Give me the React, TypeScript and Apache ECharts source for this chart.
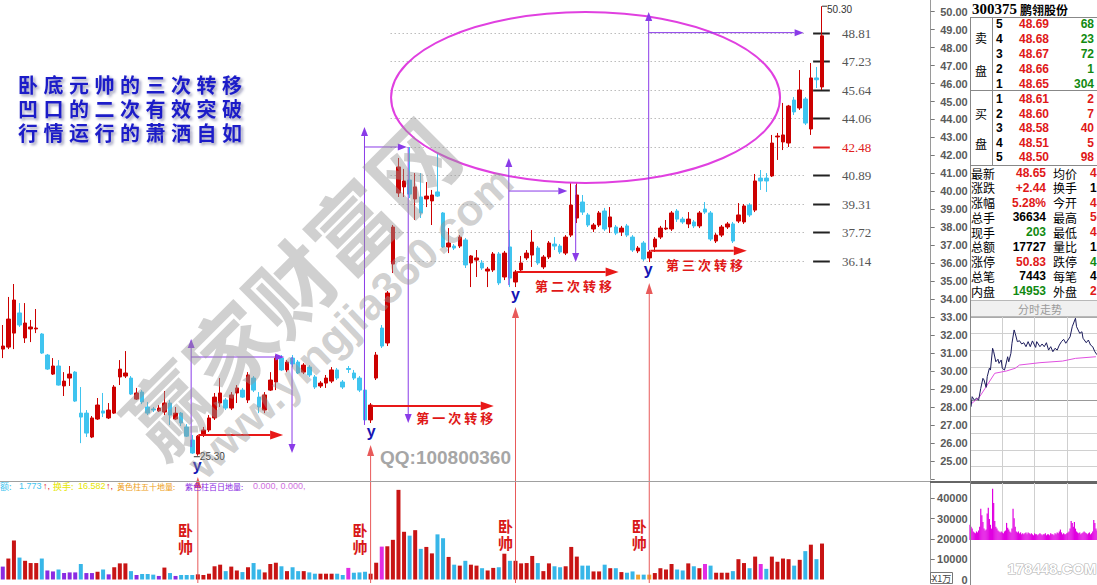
import React, { useEffect, useRef } from "react";
import * as echarts from "echarts";

// ---------- daily candles: [open, close, low, high] ----------
const candles: number[][] = [
  [31.23, 31.4, 30.73, 32.57], [31.34, 32.9, 31.23, 34.13], [32.12, 33.96, 31.23, 34.85], [33.24, 32.57, 32.46, 33.79],
  [31.85, 32.68, 31.57, 33.79], [32.35, 32.46, 31.62, 32.85], [32.35, 32.4, 32.12, 33.46], [32.07, 31.01, 30.96, 32.12],
  [30.9, 30.12, 30.07, 30.96], [29.84, 30.29, 29.79, 30.73], [30.29, 29.23, 29.2, 30.62], [29.18, 29.45, 28.62, 29.95],
  [29.62, 29.84, 29.18, 30.29], [29.95, 28.34, 28.29, 30.01], [27.67, 27.45, 26.0, 29.12], [27.67, 26.56, 26.34, 27.84],
  [26.34, 27.4, 26.28, 27.51], [27.34, 28.12, 27.29, 28.51], [27.79, 27.67, 27.45, 28.79], [27.4, 27.84, 27.34, 28.23],
  [27.67, 29.12, 27.62, 29.23], [29.68, 30.12, 29.23, 30.62], [29.73, 29.9, 29.62, 31.12], [29.62, 28.73, 28.68, 29.73],
  [28.45, 28.79, 28.4, 29.07], [28.84, 28.29, 28.17, 28.95], [28.01, 27.67, 27.56, 28.29], [27.9, 27.84, 27.73, 28.01],
  [27.79, 27.95, 27.73, 28.12], [27.73, 28.23, 27.56, 28.9], [28.23, 27.56, 27.01, 28.4], [27.34, 27.67, 27.29, 28.01],
  [27.67, 27.12, 26.95, 27.73], [26.9, 26.39, 26.34, 27.06], [26.17, 25.45, 25.4, 26.45], [25.4, 26.39, 25.3, 26.45],
  [26.45, 26.73, 26.34, 26.9], [26.73, 27.4, 26.62, 27.56], [27.4, 28.56, 27.29, 28.79], [28.23, 28.79, 28.01, 29.62],
  [28.4, 27.95, 27.84, 28.51], [27.95, 28.68, 27.84, 28.84], [28.79, 29.07, 28.23, 29.23], [28.95, 28.56, 28.51, 29.07],
  [28.4, 29.79, 28.23, 29.95], [29.62, 28.95, 28.84, 29.73], [28.56, 28.01, 27.67, 28.84], [27.84, 28.68, 27.67, 28.84],
  [28.95, 29.51, 28.9, 29.95], [29.4, 30.73, 28.95, 30.9], [30.73, 30.07, 30.01, 30.9], [30.07, 30.51, 29.95, 30.62],
  [30.73, 30.4, 30.23, 30.9], [30.51, 29.9, 29.84, 30.62], [29.95, 30.34, 29.84, 30.45], [30.23, 29.79, 29.68, 30.34],
  [29.68, 29.12, 29.01, 29.79], [29.18, 29.34, 29.07, 29.45], [29.34, 29.62, 29.07, 29.79], [29.45, 30.07, 29.34, 30.23],
  [30.07, 29.62, 29.51, 30.18], [29.4, 29.12, 29.01, 29.51], [30.15, 30.1, 29.9, 30.29], [29.9, 29.62, 29.51, 30.07],
  [29.62, 28.95, 28.84, 29.73], [28.95, 27.29, 27.12, 29.12], [27.29, 28.12, 27.12, 28.23], [29.62, 30.9, 29.51, 31.07],
  [32.4, 31.4, 31.29, 32.57], [31.57, 34.35, 31.4, 34.46], [35.96, 38.02, 35.46, 38.13], [39.91, 41.36, 39.69, 41.86],
  [40.25, 40.58, 39.69, 41.25], [40.63, 39.85, 39.63, 42.47], [39.58, 40.25, 38.41, 41.02], [39.69, 38.8, 38.52, 41.02],
  [39.58, 39.74, 39.13, 40.52], [39.47, 39.8, 38.13, 40.08], [39.97, 39.74, 39.69, 42.14], [38.8, 36.91, 36.85, 38.85],
  [36.91, 37.13, 36.57, 37.96], [36.96, 36.85, 36.74, 37.07], [36.96, 37.46, 36.85, 37.57], [37.3, 35.91, 35.74, 37.41],
  [36.02, 36.41, 34.68, 36.46], [36.18, 36.3, 35.24, 36.74], [36.02, 35.74, 35.63, 36.18], [35.57, 35.68, 34.68, 35.8],
  [35.63, 36.52, 35.52, 36.63], [36.52, 34.91, 34.79, 36.63], [35.24, 36.57, 35.07, 36.69], [36.91, 35.18, 34.68, 37.85],
  [34.96, 35.52, 34.68, 35.63], [35.63, 36.02, 35.52, 36.41], [36.3, 36.57, 36.18, 36.74], [36.46, 37.18, 35.8, 37.85],
  [36.85, 36.02, 35.91, 36.96], [35.8, 36.35, 35.68, 36.46], [36.35, 37.13, 36.24, 37.24], [37.07, 36.96, 36.74, 37.46],
  [36.96, 36.63, 36.52, 37.07], [36.57, 37.46, 36.46, 37.57], [37.57, 39.24, 37.46, 40.47], [38.52, 39.8, 38.24, 40.47],
  [39.41, 38.85, 38.69, 39.8], [38.69, 38.13, 38.02, 38.8], [37.91, 38.13, 37.74, 38.24], [38.13, 38.8, 38.02, 38.91],
  [38.91, 37.91, 37.8, 39.08], [38.02, 38.58, 37.69, 39.13], [38.02, 37.68, 37.57, 38.13], [37.74, 37.96, 37.52, 38.08],
  [38.08, 37.57, 37.46, 38.19], [37.46, 36.74, 36.63, 37.57], [36.69, 36.85, 36.57, 36.96], [37.13, 36.24, 36.13, 37.24],
  [36.3, 36.63, 36.07, 36.74], [36.91, 37.35, 36.63, 37.46], [37.46, 37.96, 37.35, 38.08], [37.91, 37.96, 37.85, 38.41],
  [37.91, 38.8, 37.8, 38.91], [38.91, 38.46, 38.3, 39.02], [38.46, 38.3, 38.19, 38.58], [38.19, 38.46, 37.96, 38.85],
  [38.3, 38.08, 37.96, 38.41], [38.08, 38.8, 37.96, 38.91], [39.02, 38.85, 38.74, 39.41], [38.8, 37.35, 37.24, 38.91],
  [37.24, 37.57, 37.13, 37.68], [37.57, 38.02, 37.46, 38.13], [38.02, 38.19, 37.91, 38.3], [38.19, 37.24, 37.13, 38.3],
  [38.35, 38.69, 38.24, 39.35], [38.3, 39.19, 38.19, 39.3], [39.24, 38.69, 38.58, 39.35], [38.96, 40.58, 38.85, 40.97],
  [40.74, 40.58, 40.08, 41.19], [40.74, 40.58, 39.97, 41.02], [40.86, 42.69, 40.8, 43.14], [43.03, 43.08, 41.75, 43.25],
  [42.75, 43.14, 42.3, 44.92], [42.69, 44.75, 42.47, 44.81], [45.08, 44.42, 44.25, 45.25], [44.64, 45.64, 44.53, 46.75],
  [45.14, 43.8, 43.69, 45.25], [43.47, 46.31, 43.14, 47.14], [46.31, 46.21, 45.75, 46.92], [45.81, 48.65, 45.64, 50.3],
];

// daily turnover (万元)
const volumes: number[] = [
  6360, 10340, 19240, 10810, 9220, 8110, 8110, 10340, 4450, 3980,
  4930, 3180, 3500, 3500, 7630, 3180, 3180, 3820, 4930, 2540,
  6040, 7950, 7950, 4130, 2230, 2700, 2700, 2390, 1750, 5880,
  3180, 1750, 2230, 2230, 2230, 2540, 2230, 2860, 6520, 7310,
  4130, 6360, 4450, 3660, 6040, 8110, 4930, 3500, 7630, 8270,
  6520, 4130, 6040, 4130, 4130, 3500, 2860, 2860, 2860, 2860,
  2860, 2230, 5720, 3340, 3500, 3820, 2860, 8270, 16220, 16380,
  19560, 44200, 23530, 21620, 24330, 15110, 16060, 12880, 22260, 20350,
  11130, 7310, 6840, 9220, 7310, 6840, 5570, 4450, 5720, 6040,
  12720, 9220, 9220, 7950, 8110, 11610, 8110, 4130, 7950, 6520,
  6040, 6520, 16060, 11290, 6840, 6840, 3980, 3980, 7310, 5570,
  5570, 3660, 3340, 3980, 2390, 2390, 2390, 3180, 5570, 4930,
  7630, 4930, 4450, 7950, 6520, 5570, 7630, 6840, 3340, 3340,
  3340, 4130, 10020, 8110, 5570, 11290, 7630, 5250, 11290, 8750,
  10340, 10020, 6840, 9700, 13990, 17170, 10020, 17727,
];
const purpleBars = [0, 8, 9, 11, 12, 13, 15, 16, 19, 24, 28, 31];
const magentaBars = [62, 68, 126, 136];
const orangeBars = [114, 116];
const SLOTS = 167;

// reference levels on the right
const levels = [48.81, 47.23, 45.64, 44.06, 42.48, 40.89, 39.31, 37.72, 36.14];
const highlightLevel = 42.48;

// annotations (index, price)
const purpleArrows = [
  [33.8, 25.78, 33.8, 31.79], [33.8, 30.79, 50.5, 30.79], [51.9, 30.79, 51.9, 25.45],
  [64.9, 27.01, 64.9, 43.58], [64.9, 42.47, 72.5, 42.47], [72.75, 42.47, 72.75, 27.12],
  [90.8, 34.79, 90.8, 41.86], [90.8, 40.02, 101.3, 40.02], [102.8, 40.36, 102.8, 36.07],
  [115.9, 36.74, 115.9, 49.98], [115.9, 48.83, 143.7, 48.83],
];
const redArrows = [
  [35.1, 26.45, 50.3, 26.45], [66.2, 28.07, 88.1, 28.07], [92.2, 35.52, 110.5, 35.52], [116.2, 36.7, 133.5, 36.7],
];
const signalBars = [35, 66, 92, 116];
const signalTips = [24.12, 25.9, 33.57, 34.91];
const yMarks = [[34.9, 24.73], [66.1, 26.67], [92, 34.29], [115.8, 35.63]];
const transferTexts = [["第一次转移", 81.1, 27.4], ["第二次转移", 102.4, 34.79], ["第三次转移", 125.9, 35.96]];
const ellipseSpec = { idx: 104.57, price: 45.22, rIdx: 34.9, rPrice: 4.755 };
const lowIdx = 35, lowPrice = 25.3, highIdx = 147, highPrice = 50.3;
const volFloorPrice = 18.22;
const woShuai = [[32.8, 20476], [64.1, 20476], [90.2, 22381], [114.2, 22381]];

// intraday
const intradayMinutes = [1, 2, 4, 6, 8, 10, 12, 13, 15, 16, 18, 19, 21, 22, 24, 26, 27, 29, 30, 32, 33, 35, 36, 38, 39, 41, 42, 44, 46, 48, 50, 52, 54, 56, 58, 61, 62, 65, 67, 69, 71, 73, 75, 77, 79, 81, 83, 85, 87, 89, 91, 93, 95, 98, 99, 102, 104, 105, 108, 110, 112, 114, 116, 118];
const intradayPrice = [28.01, 28.57, 28.38, 28.48, 28.38, 29.03, 29.59, 29.5, 29.09, 29.68, 30.15, 30.05, 31.26, 31.07, 30.51, 30.65, 30.42, 30.61, 30.15, 30.05, 30.27, 30.79, 30.51, 30.98, 31.54, 32.28, 32.09, 31.63, 31.68, 31.5, 31.57, 31.35, 31.63, 31.35, 31.67, 31.31, 31.63, 31.35, 31.5, 31.35, 31.57, 31.16, 31.35, 31.07, 31.26, 31.16, 31.44, 31.63, 31.76, 31.54, 31.72, 31.9, 32.46, 32.93, 32.46, 32.09, 32.18, 31.82, 31.57, 31.72, 31.44, 31.35, 31.07, 30.9];
const avgMinutes = [1, 9, 14, 23, 34, 42, 46, 65, 86, 98, 117];
const avgPrice = [28.16, 28.57, 29.03, 29.87, 30.0, 30.15, 30.33, 30.46, 30.55, 30.7, 30.79];
const intradayVol = [16, 14, 12, 9, 8, 7, 9, 8, 10, 14, 33, 26, 19, 12, 10, 11, 28, 34, 22, 16, 12, 54, 39, 20, 14, 12, 10, 9, 8, 9, 8, 7, 9, 10, 18, 13, 11, 9, 8, 12, 33, 23, 14, 9, 8, 9, 7, 8, 6, 7, 6, 7, 8, 6, 8, 7, 6, 7, 6, 5, 7, 6, 6, 5, 6, 7, 6, 5, 6, 6, 7, 5, 6, 6, 5, 7, 6, 6, 5, 7, 6, 8, 7, 9, 11, 8, 6, 7, 6, 6, 7, 8, 9, 12, 20, 18, 14, 19, 12, 9, 8, 7, 8, 6, 7, 8, 9, 8, 7, 6, 7, 8, 6, 7, 9, 21, 18, 12, 10];
const intradayVisibleMinutes = 118;

// order book
const askLevels = ["5", "4", "3", "2", "1"];
const askPrices = ["48.69", "48.68", "48.67", "48.66", "48.65"];
const askVols = ["68", "23", "72", "1", "304"];
const bidLevels = ["1", "2", "3", "4", "5"];
const bidPrices = ["48.61", "48.60", "48.58", "48.51", "48.50"];
const bidVols = ["2", "7", "40", "5", "98"];
const statLabels = ["最新", "涨跌", "涨幅", "总手", "现手", "总额", "涨停", "总笔", "内盘"];
const statValues = ["48.65", "+2.44", "5.28%", "36634", "203", "17727", "50.83", "7443", "14953"];
const statColors = ["r", "r", "r", "k", "g", "k", "r", "k", "g"];
const statLabels2 = ["均价", "换手", "今开", "最高", "最低", "量比", "跌停", "每笔", "外盘"];
const statValues2 = ["47.52", "16.58%", "45.81", "50.30", "45.64", "1.77", "41.59", "4.9", "21681"];
const statColors2 = ["r", "k", "r", "r", "r", "k", "g", "k", "r"];
const titleLines = ["卧底元帅的三次转移", "凹口的二次有效突破", "行情运行的萧洒自如"];

const RED = "#cc0000";
const CYAN = "#3fc4ef";
const PURPLE = "#8a2be2";
const MAGENTA = "#e22de2";
const ORANGE = "#f0a030";
const CJK = '"Noto Sans CJK SC"';

function volColor(i: number) {
  if (purpleBars.includes(i)) return PURPLE;
  if (magentaBars.includes(i)) return MAGENTA;
  if (orangeBars.includes(i)) return ORANGE;
  return candles[i][1] >= candles[i][0] ? "#c81414" : "#37b6e8";
}

function txt(text: string, x: number, y: number, style: any, extra: any = {}) {
  return {
    type: "text", x, y, z: 20, ...extra,
    style: { text, align: "left", verticalAlign: "middle", textAlign: "left", textVerticalAlign: "middle", ...style },
  };
}
function hline(x1: number, x2: number, y: number, stroke = "#999", lw = 1) {
  return { type: "line", z: 20, shape: { x1, y1: y, x2, y2: y }, style: { stroke, lineWidth: lw } };
}
function vline(x: number, y1: number, y2: number, stroke = "#999", lw = 1) {
  return { type: "line", z: 20, shape: { x1: x, y1, x2: x, y2 }, style: { stroke, lineWidth: lw } };
}

function buildGraphic() {
  const els: any[] = [];
  // blue headline
  titleLines.forEach((line, li) => {
    Array.from(line).forEach((ch, j) => {
      els.push(txt(ch, 28 + j * 25.5, 84 + li * 24, {
        fill: "#1c1cc8", font: `bold 20px ${CJK}`, align: "center", textAlign: "center",
        textShadowColor: "rgba(20,20,90,0.45)", textShadowBlur: 3, textShadowOffsetX: 2, textShadowOffsetY: 2,
      }));
    });
  });
  // watermarks
  els.push(txt("赢家财富网", 288, 285, { fill: "rgba(150,150,150,0.45)", font: `bold 86px ${CJK}`, align: "center", textAlign: "center" }, { rotation: 0.785, z: 100 }));
  els.push(txt("www.yingjia360.com", 350, 322, { fill: "rgba(150,150,150,0.45)", font: 'bold 44px "Liberation Sans"', align: "center", textAlign: "center" }, { rotation: 0.76, z: 100 }));
  els.push(txt("QQ:100800360", 380, 457, { fill: "#a6a6a6", font: 'bold 19px "Liberation Sans"' }, { z: 100 }));

  // volume legend
  const leg: [string, number, string, string][] = [
    ["额:", 0, "#3fc4ef", `9px ${CJK}`], ["1.773", 19, "#3fc4ef", '9px "Liberation Sans"'], ["↑,", 43, "#e02020", '9px "Liberation Sans"'],
    ["换手:", 53, "#e6e600", `9px ${CJK}`], ["16.582", 78, "#e6e600", '9px "Liberation Sans"'], ["↑,", 106, "#e02020", '9px "Liberation Sans"'],
    ["黄色柱五十地量:", 117, "#eea020", `8px ${CJK}`], ["紫色柱百日地量:", 185, PURPLE, `8px ${CJK}`],
    ["0.000, 0.000,", 253, "#d070e0", '9px "Liberation Sans"'],
  ];
  leg.forEach(([t, x, c, f]) => els.push(txt(t, x, 486, { fill: c, font: f })));

  // separators
  els.push(hline(0, 930, 481.5, "#a0a0a0", 1));
  els.push(hline(930, 1097, 482, "#666", 2));
  els.push(vline(970.5, 17, 585, "#888", 1));

  // order book
  els.push(txt("300375", 972, 9, { fill: "#000", font: 'bold 15px "Liberation Serif"' }));
  els.push(txt("鹏翎股份", 1020, 9, { fill: "#000", font: `bold 12px ${CJK}` }));
  els.push(hline(970, 1097, 17.5, "#888"));
  els.push(vline(992.5, 17, 166, "#888"));
  els.push(hline(970, 1097, 90.5, "#888"));
  els.push(hline(970, 1097, 165.5, "#888"));
  const side = (ch: string, y: number) => els.push(txt(ch, 981, y, { fill: "#000", font: `12px ${CJK}`, align: "center", textAlign: "center" }));
  side("卖", 37); side("盘", 70); side("买", 113); side("盘", 143);
  const askY = [24, 39, 54, 69, 84];
  const bidY = [99, 114, 128, 143, 157];
  const numFont = 'bold 12px "Liberation Sans"';
  askLevels.forEach((l, k) => {
    els.push(txt(l, 996, askY[k], { fill: "#000", font: numFont }));
    els.push(txt(askPrices[k], 1019, askY[k], { fill: "#e01818", font: numFont }));
    els.push(txt(askVols[k], 1094, askY[k], { fill: "#118a11", font: numFont, align: "right", textAlign: "right" }));
  });
  bidLevels.forEach((l, k) => {
    els.push(txt(l, 996, bidY[k], { fill: "#000", font: numFont }));
    els.push(txt(bidPrices[k], 1019, bidY[k], { fill: "#e01818", font: numFont }));
    els.push(txt(bidVols[k], 1094, bidY[k], { fill: "#e01818", font: numFont, align: "right", textAlign: "right" }));
  });
  // statistics block: each column is one multi-line text
  const LH = 14.75;
  const top = 173 - LH / 2;
  const rich = {
    r: { fill: "#e01818", fontSize: 12, fontWeight: "bold", fontFamily: "Liberation Sans", lineHeight: LH },
    k: { fill: "#000000", fontSize: 12, fontWeight: "bold", fontFamily: "Liberation Sans", lineHeight: LH },
    g: { fill: "#118a11", fontSize: 12, fontWeight: "bold", fontFamily: "Liberation Sans", lineHeight: LH },
  };
  const colText = (vals: string[], cols: string[]) => vals.map((v, k) => `{${cols[k]}|${v}}`).join("\n");
  const block = (text: string, x: number, align: string, extraStyle: any) => ({
    type: "text", x, y: top, z: 20,
    style: { text, align, textAlign: align, verticalAlign: "top", textVerticalAlign: "top", lineHeight: LH, ...extraStyle },
  });
  els.push(block(statLabels.join("\n"), 971, "left", { fill: "#000", font: `12px ${CJK}` }));
  els.push(block(colText(statValues, statColors), 1046, "right", { rich }));
  els.push(block(statLabels2.join("\n"), 1053, "left", { fill: "#000", font: `12px ${CJK}` }));
  els.push(block(colText(statValues2, statColors2), 1090, "left", { rich }));
  // intraday header
  els.push({ type: "rect", z: 19, shape: { x: 970.5, y: 300.5, width: 130, height: 16 }, style: { fill: "#f0f0f0", stroke: "#b8b8b8" } });
  els.push(txt("分时走势", 1040, 308.5, { fill: "#9a9a9a", font: `11px ${CJK}`, align: "center", textAlign: "center" }));
  // unit box
  els.push({ type: "rect", z: 20, shape: { x: 930.5, y: 572.5, width: 22, height: 11 }, style: { fill: "none", stroke: "#777" } });
  els.push(txt("X1万", 932, 578.5, { fill: "#444", font: `9px ${CJK}` }));
  els.push(txt("178448.COM", 1052, 568, { fill: "#ffffff", stroke: "#b0b0b0", lineWidth: 1.2, font: 'bold 15px "Liberation Sans"', align: "center", textAlign: "center" }));
  return els;
}

function renderLevel(params: any, api: any) {
  const v = api.value(1);
  const bw = api.size([1, 0])[0];
  const pt = api.coord([0, v]);
  const X = (i: number) => pt[0] + i * bw;
  const y = Math.round(pt[1]) + 0.5;
  const hot = v === highlightLevel;
  return {
    type: "group",
    children: [
      { type: "line", shape: { x1: X(69.6), y1: y, x2: X(144), y2: y }, style: { stroke: "#9a9a9a", lineWidth: 1, lineDash: [1, 3] } },
      { type: "line", shape: { x1: X(145.4), y1: y, x2: X(148.4), y2: y }, style: { stroke: hot ? "#e02020" : "#222", lineWidth: 2 } },
      { type: "text", x: X(150.6), y, style: { text: v.toFixed(2), fill: hot ? "#e02020" : "#555", font: '13px "Liberation Serif"', align: "left", verticalAlign: "middle", textAlign: "left", textVerticalAlign: "middle" } },
    ],
  };
}

function renderAnnotations(params: any, api: any) {
  const bw = api.size([1, 0])[0];
  const x0 = api.coord([0, 30])[0];
  const X = (i: number) => x0 + i * bw;
  const Y = (p: number) => api.coord([0, p])[1];
  const els: any[] = [];
  const arrow = (x1: number, y1: number, x2: number, y2: number, color: string, lw: number, hl: number, hw: number) => {
    const dx = x2 - x1, dy = y2 - y1;
    const len = Math.hypot(dx, dy) || 1;
    const ux = dx / len, uy = dy / len;
    const bx = x2 - ux * hl, by = y2 - uy * hl;
    els.push({ type: "line", shape: { x1, y1, x2: bx, y2: by }, style: { stroke: color, lineWidth: lw } });
    els.push({ type: "polygon", shape: { points: [[x2, y2], [bx - uy * hw, by + ux * hw], [bx + uy * hw, by - ux * hw]] }, style: { fill: color } });
  };
  const e = ellipseSpec;
  els.push({
    type: "ellipse",
    shape: { cx: X(e.idx), cy: Y(e.price), rx: e.rIdx * bw, ry: Math.abs(Y(e.price + e.rPrice) - Y(e.price)) },
    style: { fill: "none", stroke: "#e040e0", lineWidth: 2 },
  });
  purpleArrows.forEach(([a, p, b, q]) => arrow(X(a), Y(p), X(b), Y(q), "#8a3be8", 1, 9, 3.5));
  signalBars.forEach((i, k) => arrow(X(i), Y(volFloorPrice), X(i), Y(signalTips[k]), "#e85a5a", 1, 11, 3.5));
  redArrows.forEach(([a, p, b, q]) => arrow(X(a), Y(p), X(b), Y(q), "#e81818", 2, 13, 4.5));
  yMarks.forEach(([i, p]) => els.push({
    type: "text", x: X(i), y: Y(p),
    style: { text: "y", fill: "#1414b4", font: 'bold 16px "Liberation Sans"', align: "center", verticalAlign: "middle", textAlign: "center", textVerticalAlign: "middle" },
  }));
  transferTexts.forEach(([t, i, p]) => {
    const chars = Array.from(t as string);
    chars.forEach((ch, j) => els.push({
      type: "text", x: X(i as number) + (j - (chars.length - 1) / 2) * 16, y: Y(p as number),
      style: { text: ch, fill: "#e01818", font: `bold 13px ${CJK}`, align: "center", verticalAlign: "middle", textAlign: "center", textVerticalAlign: "middle" },
    }));
  });
  const ly = Y(lowPrice) + 1;
  els.push({ type: "line", shape: { x1: X(lowIdx) - 4, y1: ly, x2: X(lowIdx) + 2, y2: ly }, style: { stroke: "#333", lineWidth: 1 } });
  els.push({ type: "text", x: X(lowIdx) + 2, y: ly, style: { text: lowPrice.toFixed(2), fill: "#333", font: '10px "Liberation Sans"', align: "left", verticalAlign: "middle", textAlign: "left", textVerticalAlign: "middle" } });
  const hy = Y(highPrice);
  els.push({ type: "line", shape: { x1: X(highIdx), y1: hy, x2: X(highIdx) + 5, y2: hy }, style: { stroke: "#333", lineWidth: 1 } });
  els.push({ type: "text", x: X(highIdx) + 5, y: hy + 3, style: { text: highPrice.toFixed(2), fill: "#333", font: '10px "Liberation Sans"', align: "left", verticalAlign: "middle", textAlign: "left", textVerticalAlign: "middle" } });
  return { type: "group", children: els };
}

function renderWoShuai(params: any, api: any) {
  const els: any[] = [];
  const bw = api.size([1, 0])[0];
  woShuai.forEach(([i, v]) => {
    const x = api.coord([0, v])[0] + i * bw;
    const y = api.coord([0, v])[1];
    els.push({
      type: "text", x, y,
      style: { text: "卧\n帅", fill: "#d81818", font: `bold 15px ${CJK}`, lineHeight: 17, align: "center", verticalAlign: "middle", textAlign: "center", textVerticalAlign: "middle" },
    });
  });
  return { type: "group", children: els };
}

function buildOption(): any {
  const categories = Array.from({ length: SLOTS }, (_, i) => String(i + 1));
  const gridLeft = -2;
  const gridWidth = SLOTS * 5.585;
  const axisLabelStyle = { color: "#5a5a5a", fontSize: 11, fontWeight: "bold", fontFamily: "Liberation Sans" };
  const splitColors = ["#666", "#d0d0d0", "#d0d0d0", "#d0d0d0", "#d0d0d0", "#999", "#d0d0d0", "#d0d0d0", "#d0d0d0", "#d0d0d0", "#aaa"];
  const intradayX = (gridIndex: number) => ({
    type: "value", gridIndex, min: 0, max: intradayVisibleMinutes, interval: 30,
    axisLine: { show: false }, axisTick: { show: false }, axisLabel: { show: false },
    splitLine: { show: true, lineStyle: { color: "#cfcfcf" } },
  });
  return {
    animation: false,
    backgroundColor: "#ffffff",
    grid: [
      { left: gridLeft, top: 0, width: gridWidth, height: 479.1 },
      { left: gridLeft, top: 481, width: gridWidth, height: 102 },
      { left: 970, top: 317, right: 0, height: 166 },
      { left: 970, top: 483, right: 0, height: 57 },
    ],
    xAxis: [
      { type: "category", gridIndex: 0, data: categories, show: false },
      { type: "category", gridIndex: 1, data: categories, show: false },
      intradayX(2),
      intradayX(3),
    ],
    yAxis: [
      {
        type: "value", gridIndex: 0, position: "right", min: 24, max: 50.645, interval: 1,
        axisLine: { show: true, lineStyle: { color: "#9a9a9a" } },
        axisTick: { show: true, length: 4, lineStyle: { color: "#777" } },
        axisLabel: { ...axisLabelStyle, align: "right", margin: 37, showMaxLabel: false, formatter: (v: number) => (v >= 25 && v <= 50 ? v.toFixed(2) : "") },
        splitLine: { show: false },
      },
      {
        type: "value", gridIndex: 1, position: "right", min: 0, max: 48571, interval: 10000,
        axisLine: { show: true, lineStyle: { color: "#9a9a9a" } },
        axisTick: { show: true, length: 4, lineStyle: { color: "#777" } },
        axisLabel: { ...axisLabelStyle, align: "right", margin: 37, showMaxLabel: false, formatter: (v: number) => (v <= 40000 ? String(v) : "") },
        splitLine: { show: false },
      },
      { type: "value", gridIndex: 2, min: 23.77, max: 33, show: false },
      { type: "value", gridIndex: 3, min: 0, max: 60, show: false },
      { type: "value", gridIndex: 2, min: 0, max: 10, interval: 1, axisLine: { show: false }, axisTick: { show: false }, axisLabel: { show: false }, splitLine: { show: true, lineStyle: { color: splitColors } } },
    ],
    series: [
      {
        type: "candlestick", xAxisIndex: 0, yAxisIndex: 0, barWidth: 4, z: 3,
        data: candles,
        itemStyle: { color: RED, color0: CYAN, borderColor: RED, borderColor0: CYAN, borderWidth: 1 },
      },
      {
        type: "bar", xAxisIndex: 1, yAxisIndex: 1, barWidth: 4,
        data: volumes.map((v, i) => ({ value: v, itemStyle: { color: volColor(i) } })),
      },
      {
        type: "custom", xAxisIndex: 0, yAxisIndex: 0, z: 2, silent: true, clip: false,
        data: levels.map((v) => [0, v]), encode: { x: 0, y: 1 }, renderItem: renderLevel,
      },
      {
        type: "custom", xAxisIndex: 0, yAxisIndex: 0, z: 6, silent: true, clip: false,
        data: [[0, 30]], encode: { x: 0, y: 1 }, renderItem: renderAnnotations,
      },
      {
        type: "custom", xAxisIndex: 1, yAxisIndex: 1, z: 6, silent: true, clip: false,
        data: [[0, 0]], encode: { x: 0, y: 1 }, renderItem: renderWoShuai,
      },
      {
        type: "line", xAxisIndex: 2, yAxisIndex: 2, symbol: "none", z: 4,
        data: intradayMinutes.map((m, k) => [m, intradayPrice[k]]),
        lineStyle: { color: "#1c1c5c", width: 1 },
      },
      {
        type: "line", xAxisIndex: 2, yAxisIndex: 2, symbol: "none", z: 3,
        data: avgMinutes.map((m, k) => [m, avgPrice[k]]),
        lineStyle: { color: "#e050e0", width: 1 },
      },
      {
        type: "bar", xAxisIndex: 3, yAxisIndex: 3, barWidth: 1.2,
        data: intradayVol.map((v, m) => [m, v]),
        itemStyle: { color: "#e000e0" },
      },
    ],
    graphic: { elements: buildGraphic() },
  };
}

export default function App() {
  const ref = useRef<HTMLDivElement>(null);
  useEffect(() => {
    document.body.style.margin = "0";
    const chart = echarts.init(ref.current as HTMLDivElement, null, { renderer: "svg" });
    chart.setOption(buildOption());
    return () => chart.dispose();
  }, []);
  return <div ref={ref} style={{ width: 1097, height: 585, background: "#fff" }} />;
}
